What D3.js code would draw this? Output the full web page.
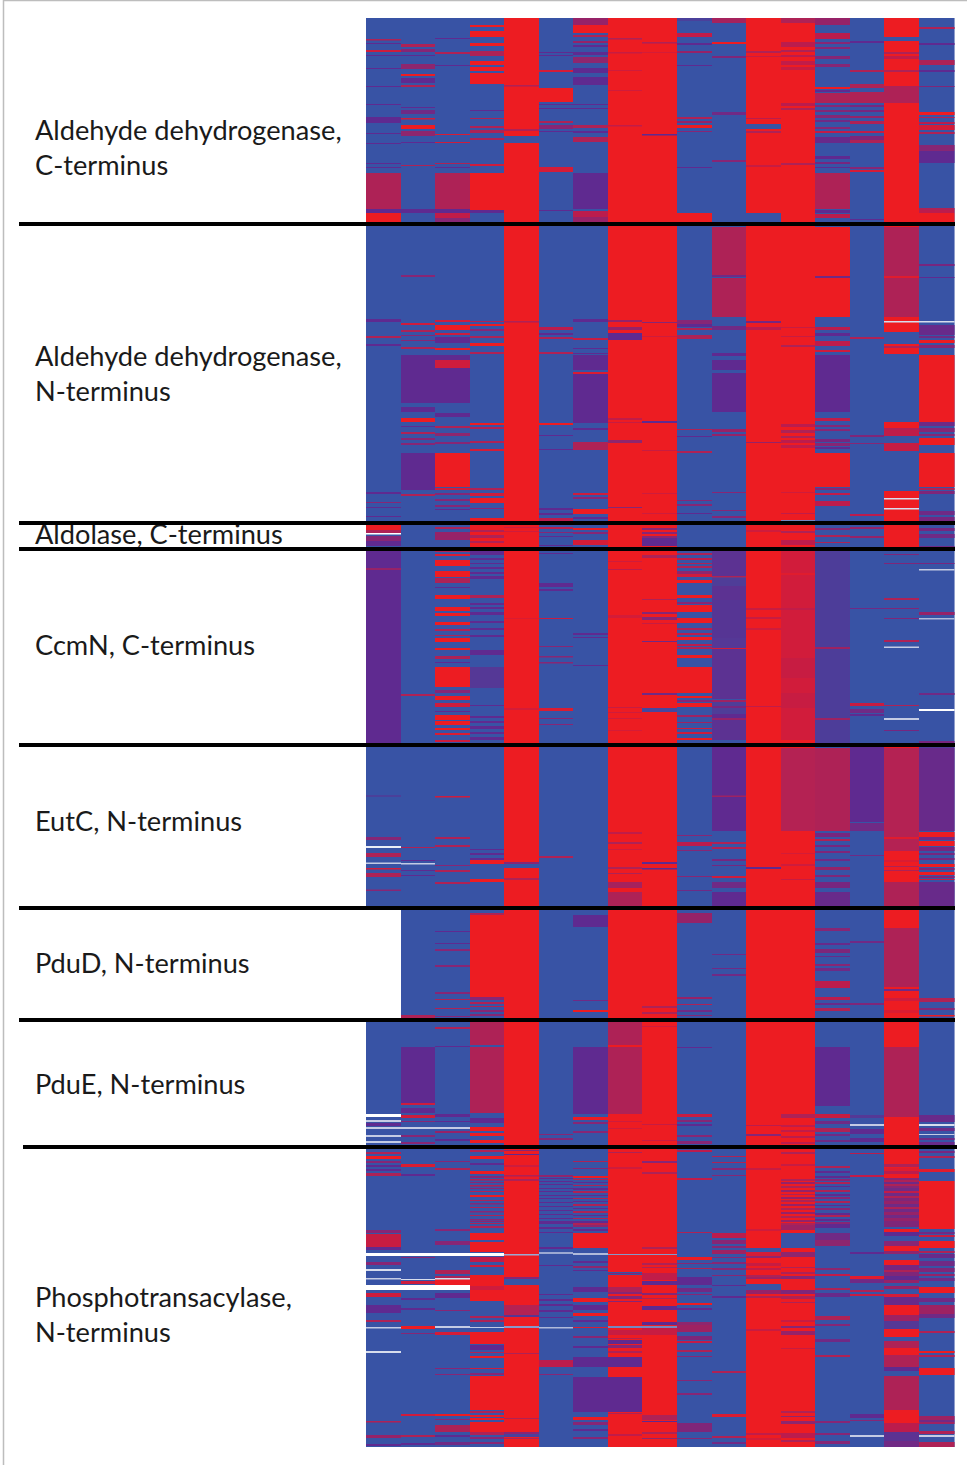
<!DOCTYPE html>
<html><head><meta charset="utf-8">
<script src="https://cdn.jsdelivr.net/npm/d3@7/dist/d3.min.js"></script>
<style>html,body{margin:0;padding:0;background:#fff}svg{display:block}</style>
</head><body><div id="chart"></div>
<script>
// Runs of each column: [first row, last row, similarity level]
// level: -1 white (gap) .. 0 blue .. 1 purple .. 2 crimson .. 3 red
const col00=[[0,1430,0],[21,22.5,2],[25,26,1],[32,34,2.5],[37,38,1],[50,51,1],[68,69,1],[86,87,1],[99,105,1],[115,116,1],[125,126,1],[145,146,1],[149,150,1],[155,191,2],[191,195,1],[195,206,3],[301,304,1],[318,320,2],[326,328,1],[474,476,1],[484,485,1.5],[489,490,1],[498,499,1],[507,512,3],[512,515,2],[515,516.5,-1],[518,523,1.5],[523,528,1],[531,727,1],[550,552,1.7],[777.5,778.5,1],[819,822,1.5],[828,830,-0.9],[835,839,2],[844.5,846,-0.7],[850,851.5,2.5],[855,859,2],[871.5,873,1.5],[892,1002,-1],[1105,1108,1],[1096,1099,-1],[1102,1104,-0.7],[1109,1111,-0.7],[1117,1119,-0.7],[1123,1125,-0.7],[1134,1136,2],[1138,1141,3],[1143,1145,1.5],[1147,1149,1],[1151,1153,1],[1155,1158,2],[1212,1215,1.5],[1216,1229,2.4],[1229,1232,1],[1235,1238,-1],[1244,1247,1.5],[1251,1253,-0.8],[1260,1261.5,-0.7],[1267,1272,-1],[1275,1279,2.5],[1287,1295,1],[1302,1304,2],[1309,1310.5,-0.7],[1333,1335,-0.8],[1403,1404.5,2],[1417,1420,1.7],[1426,1428,1]];
const col01=[[0,1430,0],[26,29,2],[31,34,1.5],[37,38,1],[46,51,1.6],[56,58,3],[60,65,1],[67,69,2],[89,90,1],[92,96,1.2],[100,101.5,2.5],[107,111,3],[113,118,1.6],[124,125,1],[147,148,2],[191,195,1],[257,259,1.5],[305,307,2.5],[312,314,2],[317,318,1.5],[322,323,1.5],[329,331,2],[337,385,1],[389,394,1],[400,404,3],[408,409,1],[414,416,2],[420,422,1.5],[425,427,1.5],[435,472,1],[476,478,2],[503,505,2],[676,678,2],[829,830,2],[842,843,1],[845,846.5,-0.7],[852,853,1],[857,858,1],[997,1000,2],[1029,1085,1],[1085,1087,2.5],[1090,1095,1],[1097,1100,2.5],[1103,1104,1.5],[1109,1111,-0.7],[1117,1119,1.5],[1124,1126,1.5],[1146,1149,2.7],[1156,1158,1],[1235,1238,-1],[1239,1240,1.5],[1261,1262,-0.8],[1263,1266,2.5],[1267,1272,-1],[1280,1282,1],[1290,1292,1],[1308,1311,3],[1315,1316,1.5],[1396,1398,2.5],[1417,1419,2],[1425,1427,1]];
const col02=[[0,1430,0],[20,21,1],[34,36,2],[47,48,1],[116,117,2.7],[124,125,2.5],[145,146,2],[149,150,1],[155,191,2],[191,195,1],[195,200,2.3],[200,206,1.5],[302,304,2.5],[307,312,3],[315,317,2.5],[319,325,1],[330,332,3],[337,385,1],[342,350,2.5],[395,399,1],[408,410,2],[415,418,1.6],[424,426,1.5],[435,469,3],[470,472,2.5],[475,477,1.5],[481,483,1.5],[487,489,1.5],[491,492,1],[503,505,2],[509,511,2],[514,522,1.7],[531,534,2],[536,538,2.7],[542,548,3],[553,559,3],[560,565,2],[569,570,1],[577,581,3],[589,593,3],[595,598,3],[604,607,3],[611,613,2],[617,618,2],[620,624,3],[630,632,3],[638,641,2],[644,645,1],[649,669,3],[672,675,1.5],[678,682,3],[685,689,2.5],[693,694,1],[697,702,3],[703,707,3],[710,712,3],[715,717,2.7],[722,724,2.5],[778,779.5,2.5],[819,821,2],[827,829,2],[847,848,1.5],[852,854,2],[864,866,2],[913,914,1],[925,926,1],[931,933,1.5],[947,949,1.5],[974,976,1.5],[981,982,2],[990,991,2],[998,999,1.5],[1009,1011,2],[1028,1029,1],[1096,1099,1],[1103,1104,1],[1109,1111,-0.7],[1113,1115,1.7],[1121,1123,1],[1143,1144,1.5],[1150,1152,2],[1211,1213,1.5],[1223,1227,1.5],[1235,1238,-1],[1252,1256,2],[1258,1261,2],[1261,1267,3],[1260,1261.5,-0.8],[1267,1272,-1],[1275,1280,1],[1292,1293,1.5],[1308,1310,-0.7],[1314,1317,2.6],[1350,1351,1.5],[1356,1357,1.5],[1396,1398,3],[1401,1402,1.5],[1407,1414,2],[1417,1419,1],[1424,1427,1.2]];
const col03=[[0,1430,0],[7,9,3],[13,19,3],[25,28,3],[33,38,2],[43,47,3],[49,53,3],[55,66,3],[92,93,1],[100,101,2],[108,110,2],[112,115,2],[120,122,2],[146,148,2.5],[155,192,3],[192,195,1],[303,304,2],[306,308,3],[311,313,1.5],[318,320,2],[325,328,3],[334,336,2],[405,407,3],[409,411,2],[423,425,2],[431,433,2.6],[470,472,2],[475,478,2.5],[480,485,3],[490,491,1.5],[500,503,3],[507,529,3],[512,514,2],[517,520,2],[523,525,2],[533,537,1],[540,542,1],[545,546,1],[549,551,1],[554,556,1],[558,561,1],[577,580,2],[585,587,1],[589,591,1],[594,597,1],[603,605,1],[610,612,1],[617,619,1],[632,637,1],[649,670,0.7],[687,688,1],[698,700,1],[703,705,1],[708,711,1],[714,716,1],[719,722,1],[831,832,1],[835,837,1],[840,842,1],[842,846,3],[861,864,3],[895,897,2],[897,979,3],[979,982,1.5],[984,986,2],[988,989,2],[992,994,1.5],[996,998,1.5],[1001,1003,2],[1004,1027,2],[1029,1095,2],[1100,1105,1],[1109,1113,3],[1115,1118,3],[1122,1125,3],[1132,1134,2],[1138,1141,3],[1145,1147,1],[1153,1156,3],[1158,1160,1.5],[1161,1162.5,2],[1164,1165,1.5],[1167,1168.5,2],[1170,1171,1.5],[1173,1174,2],[1177,1179,3],[1182,1183,2],[1185,1186.5,1.5],[1189,1190,2],[1193,1194.5,1.5],[1197,1198,2],[1201,1202.5,1.5],[1205,1206,2],[1203,1204,1.5],[1208,1210,2],[1215,1222,3],[1224,1234,3],[1235,1238,-1],[1239,1244,2.3],[1247,1249,2.5],[1249,1256,0],[1257,1283,3],[1268,1272,2.5],[1298,1300,2],[1302,1304,2],[1309,1310,-0.7],[1314,1326,3],[1327,1332,1],[1334,1335,2],[1338,1340,3],[1350,1351,2.5],[1355,1357,1.5],[1358,1392,3],[1393,1395,2],[1397,1399,3],[1400,1402,3],[1404,1414,3],[1414,1417,2],[1419,1421,1.5],[1424,1426,1.5]];
const col04=[[0,1430,3],[67,68.5,2],[111,113,2],[118,125,0],[303,304.5,2],[509,510,2.5],[513,514,2.5],[600,601,2.7],[690,692,2.6],[844,846,1.5],[846,850,0],[851,852,3],[860,862,2],[1132,1133,1.5],[1136,1137,1],[1147,1149,2.5],[1157,1158.5,2],[1161,1163,2],[1236,1237.5,-0.5],[1259,1261,1.5],[1261,1267,0],[1287,1297,2.1],[1297,1299,0.8],[1308,1310,-0.4],[1335,1336,2],[1400,1401,2],[1414,1416,1.5],[1416,1419,0.5],[1420,1421,2]];
const col05=[[0,1430,0],[34,35,1],[37,38,1],[52,54,2.6],[70,84,3],[86,87,1],[90,91,1],[103,105,2],[107,111,1.5],[113,114,1],[149,154,2.6],[192,193,1],[309,312,2.2],[315,317,1],[319,321,2],[334,336,2],[405,407,3],[417,418,1],[431,432,1],[490,492,1],[495,497,1],[500,503,2.2],[509,511,2.2],[514,515,1.5],[518,519,1],[527,528,1],[535,536,1],[565,569,1],[571,573,1],[600,601,2.4],[628,629,1.5],[638,639.5,1.5],[644,645.5,1.5],[690,693,2.7],[700,701,1.5],[706,707,1.5],[838,840,2],[1116,1117,1.5],[1120,1122,1.5],[1157,1159,1.6],[1160,1161,1],[1163,1164,1],[1166,1167,1],[1170,1171,1],[1173,1174,1],[1177,1178,1],[1180,1181,1],[1184,1185,1],[1188,1189,1],[1192,1193,1],[1196,1197,1],[1200,1201,1],[1203,1204,1],[1205,1206,1],[1203,1205,1],[1209,1211,1],[1214,1215,1],[1229,1231,1],[1234,1236,-0.5],[1247,1248,1],[1276,1277,1],[1281,1283,1],[1286,1288,1],[1292,1294,1],[1299,1300,1],[1309,1310.5,-0.6],[1342,1349,2.2],[1356,1357,1.5]];
const col06=[[0,1430,0],[0,7,1.7],[7,15,3],[17,19,2],[23,25,1.7],[27,29,1],[34,37,1],[39,45,1.6],[50,55,1],[59,67,1],[86,87,1],[90,91,1],[107,110,2],[113,115,1],[119,124,2],[155,191,1],[193,199,2.2],[199,204,1.7],[301,304,1],[320,322,2.4],[330,331,1],[335,336,1],[337,352,1],[354,356,2.7],[356,405,1],[410,412,1],[424,432,2],[475,477,2.5],[479,481,1.5],[491,496,3],[499,501,1],[510,512,3],[514,516,1.5],[522,527,2.6],[615,617,1],[619,620,1],[647,648,1],[897,909,1],[982,983,1.2],[992,994,3],[1029,1096,1],[1099,1102,3],[1104,1106,1.5],[1113,1115,1.5],[1143,1144,2],[1150,1151,1.5],[1158,1160,3],[1161,1162,2],[1164,1165,1],[1167,1168,2],[1170,1172,1],[1173,1175,2],[1177,1178,1],[1180,1181,2],[1183,1184,1],[1186,1188,2],[1190,1191,1],[1193,1195,2],[1197,1198,1],[1200,1201,2],[1203,1205,1],[1205,1207,2],[1207,1209,1.6],[1211,1213,1],[1215,1230,3],[1235,1237,-0.6],[1243,1245,1],[1248,1250,1.6],[1252,1253,1],[1269,1274,1],[1280,1284,3],[1287,1292,1],[1295,1298,3],[1302,1304,1],[1309,1310,2.7],[1318,1320,1.5],[1328,1330,1],[1339,1349,1],[1359,1394,1],[1399,1402,3],[1404,1407,1.5],[1411,1413,1],[1419,1421,1.5]];
const col07=[[0,1430,3],[20,21.5,2],[34,35.5,2.4],[52,53,2.5],[72,73,2.5],[107,108.5,2.3],[302,304,1.7],[309,312,1.7],[315,322,1],[400,402,2.3],[404,405,2.4],[422,425,1.6],[489,490,1.5],[543,544,2.5],[551,552,2.2],[597,600,2.6],[689,690,2.4],[694,695,2.5],[700,701,2.5],[712,713,2.6],[814,816,2.3],[824,826,2],[831,832,2.5],[849,851,2],[855,856,2],[864,870,1.9],[874,888,2],[1004,1027,2],[1029,1096,2],[1103,1104,2.5],[1110,1111,2.5],[1134,1135,2],[1149,1151,2.5],[1236,1237,-0.4],[1254,1257,0],[1255,1256,1.5],[1269,1274,2],[1274,1276,1.5],[1278,1281,1.5],[1283,1284,1.5],[1308,1310,-0.3],[1312,1317,2.4],[1320,1321,2],[1322,1326,1],[1327,1330,1.5],[1333,1335,2],[1339,1349,1],[1359,1394,1],[1395,1396,2],[1416,1418,2.3]];
const col08=[[0,1430,3],[24,25.5,2],[34,35,2.6],[116,117.5,1],[304,305,1.5],[318,319,2.5],[403,405,1],[432,433,2.4],[475,476,2.5],[495,496,2.5],[505,507,1.8],[510,512,1.5],[514,516,1.5],[518,520,1.5],[520,528,1],[537,540,2],[581,582,2],[594,596,1.5],[599,602,1.5],[605,606,2.4],[623,624,1.2],[675,677,1.2],[690,694,0.3],[844,846,1],[850,851.5,1],[988,990,2],[994,996,2],[1008,1009,2.5],[1106,1107,2.4],[1122,1123,2.4],[1143,1145,1.5],[1154,1156,2],[1236,1237,-0.4],[1229,1231,2],[1245,1247,2],[1249,1250,2],[1255,1262,2.3],[1263,1267,1],[1275,1277,1.5],[1280,1281,2],[1288,1292,1],[1304,1307,1],[1308,1310,-0.3],[1310,1317,2.4],[1397,1402,2],[1403,1404,1],[1414,1416,2],[1420,1421,1.6]];
const col09=[[0,1430,0],[0,3,0.5],[15,19,2.3],[25,27,1],[33,35,1.7],[47,48,1],[99,101,2],[103,105,1.7],[107,110,3],[113,114,1.5],[149,150,1],[195,206,3],[302,306,1.5],[306,309,1],[310,312,2],[317,321,2],[411,412,2],[418,419,1],[433,435,2],[482,483,1.5],[486,488,1.5],[495,496,1],[535,537,2],[540,542,2.2],[545,546,2],[548,550,2],[553,556,1.6],[556,559,2.5],[562,565,3],[577,580,3],[584,586,1.5],[587,594,3],[600,605,3],[610,612,2],[615,617,2.2],[619,622,3],[626,628,2.2],[629,631,2],[637,640,3],[649,675,3],[678,680,3],[682,684,1.5],[685,689,3],[697,699,1.8],[704,705,1.8],[710,711,2.5],[714,716,2.5],[720,722,3],[817,818,1.5],[824,828,2.2],[832,833,1.5],[858,859,1.5],[872,873,1.2],[895,905,1.7],[979,981,1.7],[986,987,2],[992,994,1.2],[997,998,1.5],[1029,1030,1],[1096,1099,2.4],[1102,1104,1.5],[1106,1108,1],[1117,1119,1.5],[1123,1126,1.5],[1132,1134,2.2],[1160,1162,2.3],[1214,1215,2],[1239,1242,3],[1245,1246,1.5],[1250,1251,2],[1259,1267,1],[1270,1274,1.2],[1276,1277,1.5],[1285,1287,3],[1290,1292,1],[1304,1307,1.6],[1307,1314,1.8],[1318,1322,1.4],[1323,1325,2.3],[1332,1334,2],[1338,1339,1.5],[1362,1363,1.5],[1375,1377,1.5],[1405,1414,1.4],[1420,1421,1.5]];
const col10=[[0,1430,0],[0,5,1.9],[24,26,3],[38,40,1.4],[94,97,1.2],[142,144,1.5],[209,257,2],[257,259,1.2],[260,299,2],[308,312,1.2],[335,338,1],[342,352,1],[355,394,1],[411,414,1.7],[416,418,1.7],[474,475,1.5],[492,493,1.5],[498,500,1.5],[533,558,0.9],[558,559.5,2],[560,568,0.6],[568,582,0.9],[582,592,0.75],[592,620,0.8],[620,631,0.7],[630,631,2.6],[631,681,0.9],[682,684,1.8],[684,696,0.6],[688,690,1.3],[696,700,1],[700,702,1.7],[702,722,0.9],[729,813,1],[777.5,779,1.8],[824,826,2],[829,831,2],[841,843,1.3],[847,848,1.3],[858,860,2.5],[864,870,1.2],[874,888,1],[936,937,1.2],[950,951,1.2],[956,958,1.2],[1138,1139,2],[1144,1145,2],[1150,1152,1.5],[1157,1158,1.5],[1215,1220,2.2],[1222,1226,1.5],[1228,1230,1.5],[1232,1236,1.8],[1239,1240,1.5],[1244,1246,1.5],[1250,1252,1.5],[1257,1258,1.5],[1267,1268,1],[1278,1280,1],[1353,1355,2],[1396,1399,2.7],[1418,1420,2],[1424,1426,1.2]];
const col11=[[0,1430,3],[33,35,2],[38,39,2.4],[100,101,2.2],[106,111,0],[113,115,2],[147,149,2.4],[195,206,0],[303,305,1.3],[309,312,2.2],[424,425,1.7],[512,514,2.5],[590,592,2.4],[599,601,2.4],[610,612,2.5],[688,689,2.3],[849,851,1],[1107,1108,2.2],[1116,1118,1.5],[1150,1152,2.4],[1211,1213,2.5],[1230,1234,0],[1234,1238,2.6],[1238,1240,1.6],[1245,1248,2.4],[1250,1252,2.3],[1257,1259,2],[1259,1261,1.8],[1266,1272,0],[1272,1276,1.7],[1278,1280,2],[1311,1313,2.4],[1415,1417,2.3],[1420,1422,2.6]];
const col12=[[0,1430,3],[0,5,2],[24,29,2.2],[32,34,2],[37,39,2.2],[43,47,2.3],[49,52,2.4],[85,88,2.2],[90,92,2],[145,147,2],[309,310,2.4],[318,319,2.4],[327,329,2],[406,409,2.2],[412,415,2],[418,420,2],[422,425,2.2],[427,430,2.3],[474,475,2.5],[495,496,2.3],[502,503,-0.3],[513,515,2],[522,527,2.2],[533,722,2.55],[555,557,2.8],[590,592,2.3],[640,660,2.4],[675,690,2.4],[730,813,2.1],[835,836,2.6],[846,848,2.5],[861,862,2.4],[1096,1100,2],[1107,1109,2.3],[1112,1114,2.3],[1118,1120,2.2],[1124,1126,2.2],[1134,1136,2],[1146,1148,2.4],[1161,1163,2],[1164,1166,1.7],[1168,1170,2],[1172,1174,1.7],[1176,1177,2],[1179,1181,1.7],[1182,1184,2],[1186,1188,1.7],[1190,1192,2],[1194,1196,1.7],[1198,1200,2],[1202,1204,1.7],[1205,1207,2],[1207,1212,1.8],[1215,1230,0],[1231,1233,3],[1234,1239,1.6],[1249,1250,2],[1254,1256,2],[1258,1261,1.5],[1272,1276,1.4],[1278,1281,2],[1284,1285,2],[1302,1304,2.4],[1308,1310,1.5],[1313,1317,1.7],[1330,1331,2.4],[1393,1395,2],[1398,1399,1.6],[1403,1406,1.6],[1415,1420,2.2],[1422,1424,2]];
const col13=[[0,1430,0],[0,7,1.7],[15,21,2.2],[24,26,1.5],[29,31,1.5],[38,41,1.5],[46,49,1.5],[69,71,3],[72,74,1],[75,85,2],[87,89,1.5],[92,94,1.5],[97,100,1.5],[102,104,1.2],[109,111,1.5],[113,115,2.3],[119,125,1.1],[138,141,1],[144,146,1.3],[149,150,1],[155,191,2],[192,195,1],[196,200,2.2],[209,299,3],[258,260,1.2],[299,302,0],[309,312,2.2],[315,318,1],[323,328,2.2],[332,334,2.5],[337,394,1],[400,403,2.3],[407,409,1.5],[411,413,1.5],[421,424,1.3],[425,428,1.5],[429,431,1],[435,469,3],[470,472,1.5],[475,477,2.3],[483,488,2.2],[510,512,1.5],[517,519,2],[524,525,2],[531,533,1.2],[533,727,0.55],[629,631,1.8],[700,702,1.8],[730,813,2],[815,819,1.3],[821,823,2],[827,829,1.3],[833,835,1.4],[841,843,1.2],[849,852,1.7],[857,859,1.4],[864,870,1.3],[874,888,1.1],[910,913,1.5],[925,927,1.1],[931,935,1.4],[938,939,1.1],[946,948,1.5],[950,953,1.2],[963,970,2.2],[979,982,2.2],[985,987,1.1],[990,993,2],[1029,1088,1],[1096,1100,2.4],[1103,1106,1.2],[1110,1114,2],[1116,1118,1.2],[1122,1124,1.2],[1148,1150,2],[1153,1155,1],[1158,1160,1],[1161,1163,1.5],[1164,1166,2],[1168,1169,1],[1172,1174,2],[1176,1178,1],[1179,1181,1.5],[1183,1185,2],[1187,1188,1],[1190,1192,1.5],[1195,1197,1],[1197,1199,2],[1201,1203,1],[1204,1206,1.5],[1206,1210,1],[1215,1222,1.2],[1222,1228,1.6],[1250,1252,1.6],[1256,1258,2.3],[1270,1272,2],[1275,1279,1.1],[1298,1302,2],[1306,1308,1.5],[1321,1324,1.2],[1337,1339,2],[1403,1405,1.5],[1415,1417,1.5],[1423,1426,1.5]];
const col14=[[0,1430,0],[23,25,1],[52,54,2],[66,70,2],[74,85,2],[87,89,1.3],[92,94,1.3],[98,100,1.7],[103,106,2],[113,115,2.3],[118,122,1.4],[122,125,2],[149,151,1.5],[152,154,2.6],[201,202,1],[319,321,2],[417,419,1.4],[425,426,1.5],[496,498,2.2],[509,511,1.7],[518,520,1.7],[590,591,1.2],[685,688,2.4],[691,695,1.2],[696,698,1],[729,804,1],[805,813,1.2],[837,838,1.2],[923,925,1.2],[985,987,1.4],[1097,1100,0.7],[1106,1108,-0.7],[1111,1116,1],[1120,1124,1],[1135,1136,2.2],[1157,1159,2.3],[1234,1236,1],[1258,1261,2.8],[1261,1265,1.2],[1272,1274,2],[1276,1278,2.4],[1396,1400,1],[1402,1403,1.5],[1417,1419,-0.7]];
const col15=[[0,1430,3],[19,23,0],[34,36,2],[38,41,2.3],[52,54,2],[68,85,2],[299,303,3],[209,299,2],[258,260,2.8],[303,304.5,-0.8],[314,326,0],[326,336,3],[328,330,2],[336,404,0],[404,410,3],[410,412,2],[412,418,2.3],[418,425,0],[425,433,2.4],[433,473,0],[473,502,3],[480,481.5,-0.8],[490,491.5,-0.8],[531,727,0],[536,537,1.4],[545,546,1.4],[580,582,2],[590,591,1.4],[600,601,1.4],[622,624,2],[628.5,630,-0.7],[687,688,2],[700,702,-0.7],[712,713,1.3],[730,833,2.1],[819,821,2.8],[835,847,3],[842,844,2.7],[848,849,2],[852,853,2],[855,862,3],[864,888,2],[894,909,3],[910,969,2],[971,973,1.2],[975,978,3],[980,983,2.5],[986,989,3],[992,995,2.7],[996,1002,3],[1004,1029,3],[1029,1099,2],[1132,1144,3],[1146,1149,2],[1150,1153,2.8],[1153,1156,2.2],[1156,1160,3],[1160,1162,1.5],[1162,1164,2],[1164,1166,1.2],[1166,1168,2],[1168,1170,1.5],[1170,1173,1.2],[1173,1175,2.3],[1175,1178,1.2],[1178,1180,2],[1180,1183,1.4],[1183,1186,1.7],[1186,1189,1.2],[1189,1191,2],[1191,1194,1.2],[1194,1197,1.7],[1197,1200,1.2],[1200,1203,1.7],[1203,1209,1.4],[1209,1211,0],[1211,1214,3],[1214,1218,1],[1218,1223,0],[1223,1228,1.5],[1228,1233,3],[1233,1236,1.6],[1236,1242,0],[1242,1247,3],[1247,1252,1.3],[1252,1254,2],[1254,1258,1.4],[1258,1262,1],[1262,1265,1.7],[1265,1268,0],[1268,1271,1.7],[1271,1276,0],[1276,1279,2.6],[1279,1287,1.1],[1287,1297,3],[1297,1303,1.8],[1303,1311,0.7],[1311,1319,3],[1319,1323,0],[1323,1330,2],[1330,1337,3],[1337,1349,2],[1349,1353,1],[1353,1358,0],[1358,1392,2],[1392,1405,3],[1405,1414,2.2],[1414,1423,0.9],[1423,1430,1.2]];
const col16=[[0,1430,0],[9,11,2],[25,27,1],[42,47,2],[52,54,1],[68,69,1.4],[94,97,3],[99,100,2],[104,106,2.2],[107,112,2.6],[114,116,2],[127,133,1.5],[133,145,1],[190,192,2],[192,195,2.2],[195,206,3],[246,248,1.3],[259,260,1],[303,304.5,-0.8],[307,317,1.1],[318,320,1.2],[322,325,3],[327,330,1.5],[337,404,3],[404,408,1.2],[410,414,1.5],[416,418,1.5],[420,427,3],[435,469,3],[470,472,2],[473,476,1.4],[493,497,1.2],[499,505,1.3],[510,513,1.3],[516,520,1.2],[528,530,1.2],[545,546,1.3],[551,552.5,-0.7],[594,597,1.7],[600,601.5,-0.6],[675,677,1.2],[691,693,-1],[723,725,1.3],[729.5,813,1.1],[814,819,3],[819,822,1.2],[823,828,3],[829,833,1.3],[835,837,1.3],[840,842,1.3],[846,849,3],[850,852,1.4],[854,857,3],[858,860,1.4],[861,862,2.4],[864,888,1.1],[980,984,2],[990,992,1.5],[997,998.5,3],[1097,1104,1.1],[1106,1108,-0.8],[1110,1113,1.2],[1116,1117,-0.7],[1120,1122,1.2],[1124,1129,1.1],[1133,1135,1.3],[1138,1140,2],[1151,1154,2.8],[1154,1163,0],[1163,1211,3],[1214,1216,1.2],[1217,1219,2.4],[1223,1230,3],[1233,1235,2],[1236,1240,1.1],[1243,1248,1.2],[1250,1254,1.4],[1256,1258,1.7],[1260,1263,1.2],[1269,1275,3],[1280,1284,1.2],[1287,1296,1.8],[1296,1300,1.2],[1313,1315,2],[1333,1335,3],[1337,1339,2],[1350,1357,3],[1398,1402,1.8],[1402,1404,1.2],[1404,1406,1.8],[1413,1416,2],[1417,1419,-0.7],[1424,1430,2]];
const columns=[col00,col01,col02,col03,col04,col05,col06,col07,col08,col09,col10,col11,col12,col13,col14,col15,col16];

const levels=[-1,0,1,2,3];
const levelColors=["#ffffff","#3953a5","#5f2c90","#ae2057","#ed1c24"];

// Rows at which a new protein domain starts (the heavy black rules)
const ruleRows=[206,505,531,727,890,1002,1129];
const labels=[["Aldehyde dehydrogenase,","C-terminus"],["Aldehyde dehydrogenase,","N-terminus"],["Aldolase, C-terminus"],["CcmN, C-terminus"],["EutC, N-terminus"],["PduD, N-terminus"],["PduE, N-terminus"],["Phosphotransacylase,","N-terminus"]];
const labelRows=[122,348,526,637,813,955,1076,1289];

const W=967,H=1465;
const svg=d3.select("#chart").append("svg").attr("width",W).attr("height",H);
const x=d3.scaleBand().domain(d3.range(columns.length)).range([366,953.5]);
const y=d3.scaleLinear().domain([0,1429]).range([18,1447]);
const color=d3.scaleLinear().domain(levels).range(levelColors).clamp(true);

svg.append("defs").append("filter").attr("id","soft").attr("x",0).attr("y",0).attr("width",1).attr("height",1)
  .append("feGaussianBlur").attr("stdDeviation","0.4 0.55");

// page frame
svg.append("path").attr("d",`M3.5,${H}V0.5H${W}`).attr("fill","none").attr("stroke","#bdbdbd").attr("stroke-width",1.5);

const heat=svg.append("g").attr("filter","url(#soft)");
heat.selectAll("g").data(columns).join("g").attr("transform",(d,i)=>`translate(${Math.round(x(i))},0)`)
  .selectAll("rect").data(d=>d).join("rect")
  .attr("x",0).attr("width",x.bandwidth()+1)
  .attr("y",d=>y(d[0])).attr("height",d=>Math.max(0.5,y(Math.min(d[1],1429))-y(d[0])))
  .attr("fill",d=>color(d[2]));

const text=svg.append("g").attr("font-family","Lato, 'Open Sans', sans-serif").attr("font-size",27.2).attr("fill","#1a1a1a");
labels.forEach((lines,i)=>{
  text.append("text").attr("x",35).attr("y",y(labelRows[i]))
    .selectAll("tspan").data(lines).join("tspan")
    .attr("x",35).attr("dy",(d,j)=>j?35:0).text(d=>d);
});

svg.append("g").selectAll("line").data(ruleRows).join("line")
  .attr("x1",(d,i)=>i===6?23:19).attr("x2",(d,i)=>i===6?957:955)
  .attr("y1",d=>y(d)).attr("y2",d=>y(d))
  .attr("stroke","#000").attr("stroke-width",3.8);
</script></body></html>
